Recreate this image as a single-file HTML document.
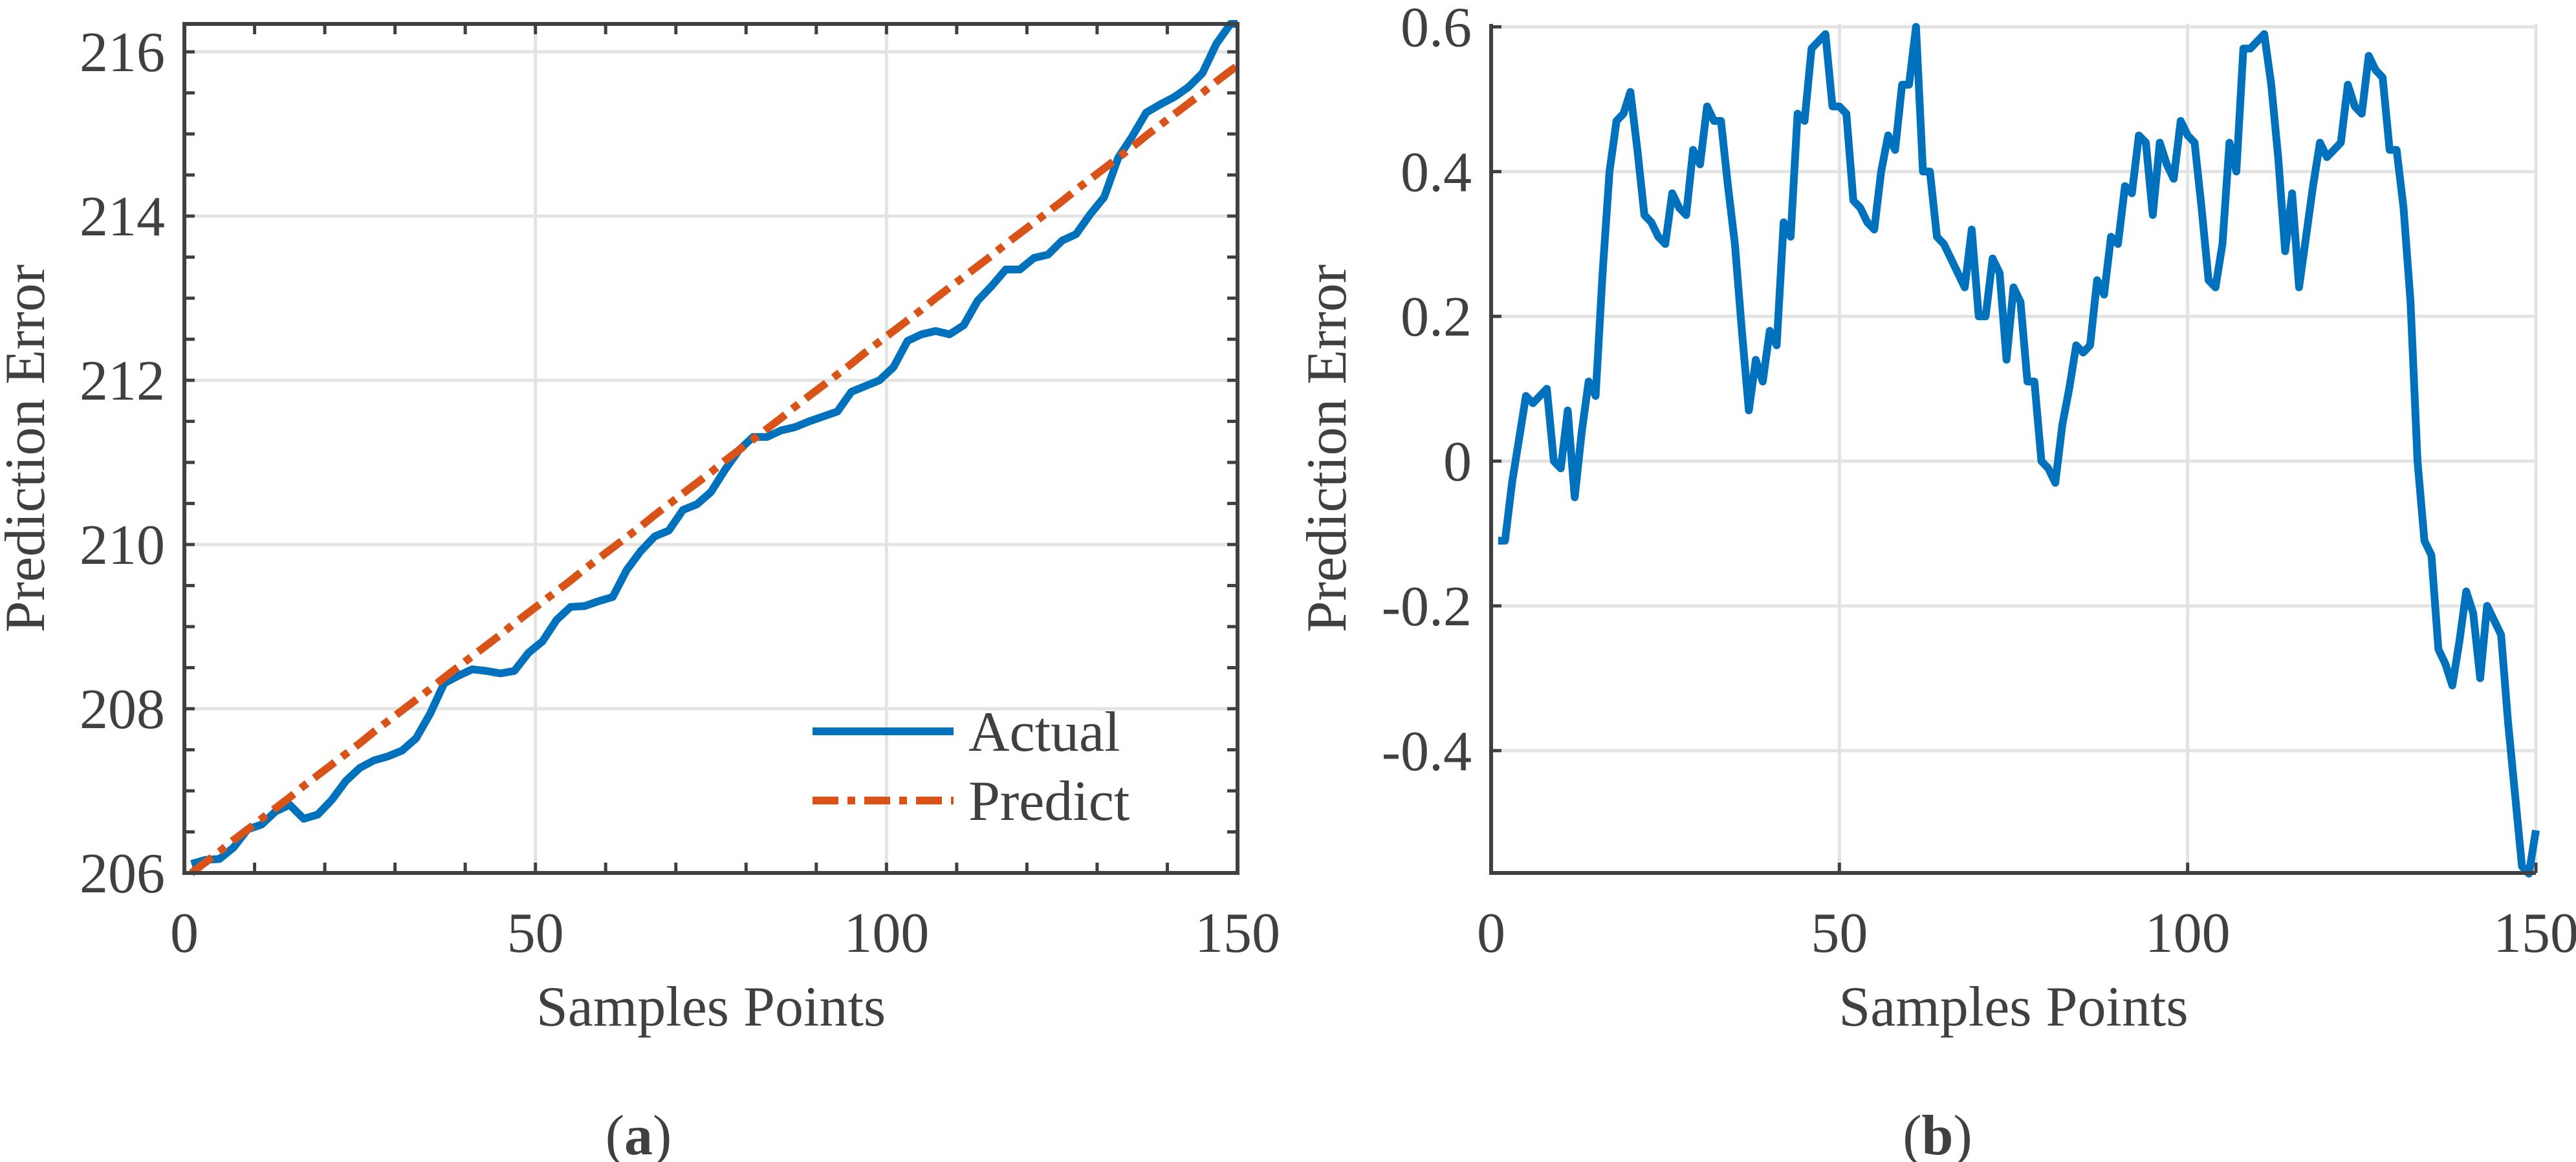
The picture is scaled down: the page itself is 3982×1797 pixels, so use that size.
<!DOCTYPE html>
<html><head><meta charset="utf-8"><style>
html,body{margin:0;padding:0;background:#fff}
svg{display:block}
text{font-family:"Liberation Serif",serif;fill:#404040}
</style></head><body>
<svg id="fig" width="3982" height="1797" viewBox="0 0 3982 1797" xmlns="http://www.w3.org/2000/svg">
<g id="ga"></g>
<g id="gb"></g>
<text x="987" y="1785" font-size="88" text-anchor="middle">(<tspan font-weight="bold">a</tspan>)</text>
<text x="2995" y="1785" font-size="88" text-anchor="middle">(<tspan font-weight="bold">b</tspan>)</text>
</svg>
<script>
const aX = [1,3,5,7,9,11,13,15,17,19,21,23,25,27,29,31,33,35,37,39,41,43,45,47,49,51,53,55,57,59,61,63,65,67,69,71,73,75,77,79,81,83,85,87,89,91,93,95,97,99,101,103,105,107,109,111,113,115,117,119,121,123,125,127,129,131,133,135,137,139,141,143,145,147,149,150];
const actual = [206.11,206.16,206.17,206.31,206.53,206.59,206.75,206.83,206.66,206.71,206.89,207.12,207.28,207.37,207.42,207.49,207.64,207.94,208.31,208.40,208.48,208.46,208.43,208.46,208.68,208.82,209.08,209.24,209.25,209.31,209.36,209.69,209.92,210.10,210.17,210.42,210.49,210.64,210.91,211.15,211.31,211.31,211.39,211.43,211.50,211.56,211.62,211.86,211.93,212.00,212.16,212.48,212.56,212.60,212.56,212.67,212.97,213.15,213.35,213.35,213.49,213.53,213.70,213.78,214.02,214.23,214.71,214.97,215.26,215.36,215.45,215.57,215.74,216.10,216.34,216.34];
const predict = [206.00,206.13,206.26,206.40,206.53,206.66,206.79,206.92,207.06,207.19,207.32,207.45,207.58,207.72,207.85,207.98,208.11,208.24,208.38,208.51,208.64,208.77,208.90,209.04,209.17,209.30,209.43,209.56,209.70,209.83,209.96,210.09,210.22,210.36,210.49,210.62,210.75,210.88,211.02,211.15,211.28,211.41,211.54,211.68,211.81,211.94,212.07,212.20,212.34,212.47,212.60,212.73,212.86,213.00,213.13,213.26,213.39,213.52,213.66,213.79,213.92,214.05,214.18,214.32,214.45,214.58,214.71,214.84,214.98,215.11,215.24,215.37,215.50,215.64,215.77,215.83];
const errorVals = [-0.11,-0.11,-0.03,0.03,0.09,0.08,0.09,0.10,0.00,-0.01,0.07,-0.05,0.04,0.11,0.09,0.26,0.40,0.47,0.48,0.51,0.43,0.34,0.33,0.31,0.30,0.37,0.35,0.34,0.43,0.41,0.49,0.47,0.47,0.38,0.30,0.18,0.07,0.14,0.11,0.18,0.16,0.33,0.31,0.48,0.47,0.57,0.58,0.59,0.49,0.49,0.48,0.36,0.35,0.33,0.32,0.40,0.45,0.43,0.52,0.52,0.60,0.40,0.40,0.31,0.30,0.28,0.26,0.24,0.32,0.20,0.20,0.28,0.26,0.14,0.24,0.22,0.11,0.11,0.00,-0.01,-0.03,0.05,0.10,0.16,0.15,0.16,0.25,0.23,0.31,0.30,0.38,0.37,0.45,0.44,0.34,0.44,0.41,0.39,0.47,0.45,0.44,0.35,0.25,0.24,0.30,0.44,0.40,0.57,0.57,0.58,0.59,0.52,0.42,0.29,0.37,0.24,0.31,0.38,0.44,0.42,0.43,0.44,0.52,0.49,0.48,0.56,0.54,0.53,0.43,0.43,0.35,0.22,0.00,-0.11,-0.13,-0.26,-0.28,-0.31,-0.25,-0.18,-0.21,-0.30,-0.20,-0.22,-0.24,-0.36,-0.46,-0.56,-0.57,-0.51];
const xTicks = [0,50,100,150];
const aYTicks = [206,208,210,212,214,216];
const bYTicks = [-0.4,-0.2,0,0.2,0.4,0.6];
const bYLabels = ['-0.4','-0.2','0','0.2','0.4','0.6'];

const NS='http://www.w3.org/2000/svg';
function mk(p,tag,at){const e=document.createElementNS(NS,tag);for(const k in at)e.setAttribute(k,at[k]);p.appendChild(e);return e;}
const AX='#404040', GR='#e3e3e3', FS=88;

// Chart A
const ga=document.getElementById('ga');
const A={l:285,r:1913,t:37,b:1350,y0:206,y1:216.34};
const ax=v=>A.l+(v-0)/150*(A.r-A.l);
const ay=v=>A.b-(v-A.y0)/(A.y1-A.y0)*(A.b-A.t);
xTicks.forEach(v=>{const g=mk(ga,'line',{x1:ax(v),x2:ax(v),y1:A.t,y2:A.b,stroke:GR,'stroke-width':5});

const t=mk(ga,'text',{x:ax(v),y:1472,'font-size':FS,'text-anchor':'middle'});t.textContent=v;
});
aYTicks.forEach(v=>{const g=mk(ga,'line',{x1:A.l,x2:A.r,y1:ay(v),y2:ay(v),stroke:GR,'stroke-width':5});

const t=mk(ga,'text',{x:A.l-30,y:ay(v)+30,'font-size':FS,'text-anchor':'end'});t.textContent=v;
});
for(let v=0;v<=150;v+=10){mk(ga,'line',{x1:ax(v),x2:ax(v),y1:A.b,y2:A.b-16,stroke:AX,'stroke-width':5});mk(ga,'line',{x1:ax(v),x2:ax(v),y1:A.t,y2:A.t+16,stroke:AX,'stroke-width':5});}
for(let v=206;v<=216.01;v+=0.5){mk(ga,'line',{x1:A.l,x2:A.l+16,y1:ay(v),y2:ay(v),stroke:AX,'stroke-width':5});mk(ga,'line',{x1:A.r,x2:A.r-16,y1:ay(v),y2:ay(v),stroke:AX,'stroke-width':5});}
let pa=aX.map((x,i)=>(i?'L':'M')+ax(x).toFixed(1)+','+ay(actual[i]).toFixed(1)).join('');
const la=mk(ga,'path',{d:pa,fill:'none',stroke:'#0072BD','stroke-width':12,'stroke-linejoin':'round'});

let pp=aX.map((x,i)=>(i?'L':'M')+ax(x).toFixed(1)+','+ay(predict[i]).toFixed(1)).join('');
const lp=mk(ga,'path',{d:pp,fill:'none',stroke:'#D95319','stroke-width':12,'stroke-dasharray':'40 14 12 14'});

const fa=mk(ga,'rect',{x:A.l,y:A.t,width:A.r-A.l,height:A.b-A.t,fill:'none',stroke:AX,'stroke-width':6});

const xla=mk(ga,'text',{x:(A.l+A.r)/2,y:1586,'font-size':FS,'text-anchor':'middle'});xla.textContent='Samples Points';

const yla=mk(ga,'text',{x:0,y:0,'font-size':FS,'text-anchor':'middle',transform:'translate(68,'+(A.t+A.b)/2+') rotate(-90)'});yla.textContent='Prediction Error';

const lg=mk(ga,'g',{});
const l1=mk(lg,'line',{x1:1256,x2:1474,y1:1131,y2:1131,stroke:'#0072BD','stroke-width':12});

const t1=mk(lg,'text',{x:1497,y:1161,'font-size':FS});t1.textContent='Actual';

const l2=mk(lg,'line',{x1:1256,x2:1474,y1:1238,y2:1238,stroke:'#D95319','stroke-width':12,'stroke-dasharray':'40 14 12 14'});

const t2=mk(lg,'text',{x:1497,y:1268,'font-size':FS});t2.textContent='Predict';


// Chart B
const gb=document.getElementById('gb');
const B={l:2305,r:3920,t:37,b:1350,y0:-0.569,y1:0.604};
const bx=v=>B.l+v/150*(B.r-B.l);
const by=v=>B.b-(v-B.y0)/(B.y1-B.y0)*(B.b-B.t);
xTicks.forEach(v=>{const g=mk(gb,'line',{x1:bx(v),x2:bx(v),y1:B.t,y2:B.b,stroke:GR,'stroke-width':5});

mk(gb,'line',{x1:bx(v),x2:bx(v),y1:B.b,y2:B.b-16,stroke:AX,'stroke-width':5});
const t=mk(gb,'text',{x:bx(v),y:1472,'font-size':FS,'text-anchor':'middle'});t.textContent=v;
});
bYTicks.forEach((v,i)=>{const g=mk(gb,'line',{x1:B.l,x2:B.r,y1:by(v),y2:by(v),stroke:GR,'stroke-width':5});

mk(gb,'line',{x1:B.l,x2:B.l+16,y1:by(v),y2:by(v),stroke:AX,'stroke-width':5});
const t=mk(gb,'text',{x:B.l-30,y:by(v)+30,'font-size':FS,'text-anchor':'end'});t.textContent=bYLabels[i];
});
let pb=errorVals.map((e,i)=>(i?'L':'M')+bx(i+1).toFixed(1)+','+by(e).toFixed(1)).join('');
const lb=mk(gb,'path',{d:pb,fill:'none',stroke:'#0072BD','stroke-width':12,'stroke-linejoin':'round'});

const axb=mk(gb,'path',{d:`M${B.l},${B.t}L${B.l},${B.b}L${B.r},${B.b}`,fill:'none',stroke:AX,'stroke-width':6});

const xlb=mk(gb,'text',{x:(B.l+B.r)/2,y:1586,'font-size':FS,'text-anchor':'middle'});xlb.textContent='Samples Points';

const ylb=mk(gb,'text',{x:0,y:0,'font-size':FS,'text-anchor':'middle',transform:'translate(2080,'+(B.t+B.b)/2+') rotate(-90)'});ylb.textContent='Prediction Error';

</script>
</body></html>
